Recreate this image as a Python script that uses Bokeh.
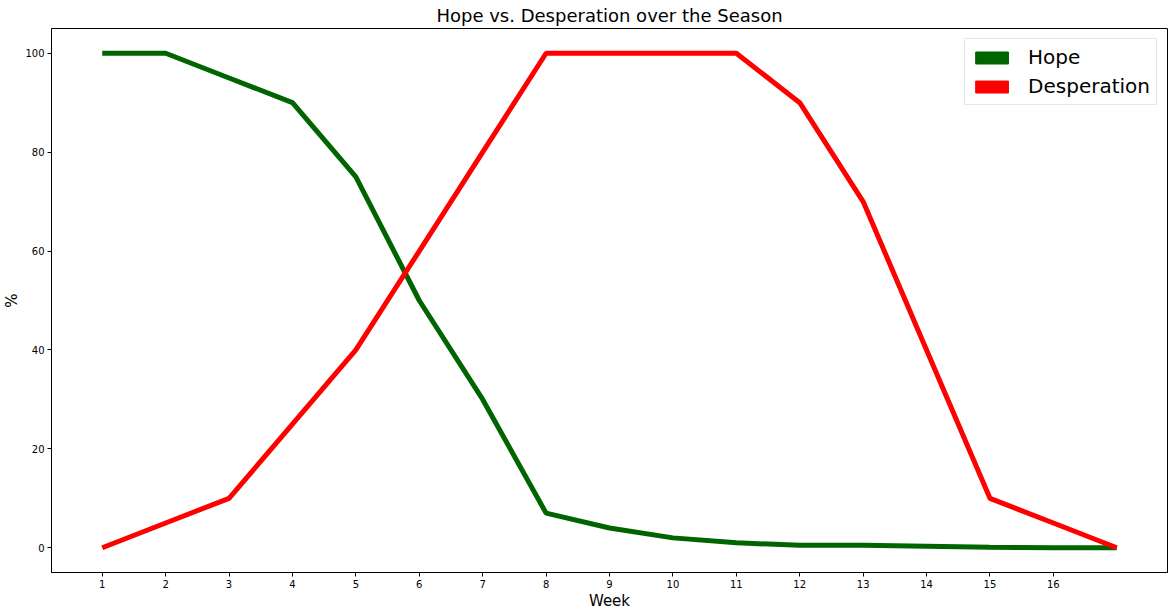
from bokeh.plotting import figure
from bokeh.models import FixedTicker, Range1d, Legend, LegendItem, ColumnDataSource
from bokeh.embed import file_html
from bokeh.resources import INLINE

weeks = list(range(1, 18))
hope = [100, 100, 95, 90, 75, 50, 30, 7, 4, 2, 1, 0.5, 0.5, 0.3, 0.1, 0, 0]
desperation = [0, 5, 10, 25, 40, 60, 80, 100, 100, 100, 100, 90, 70, 40, 10, 5, 0]
x_ticks = list(range(1, 17))
y_ticks = [0, 20, 40, 60, 80, 100]
title_text = "Hope vs. Desperation over the Season"
series_names = ["Hope", "Desperation"]
series_colors = ["#006400", "#ff0000"]

FONT = "DejaVu Sans"

p = figure(frame_width=1116, frame_height=544, output_backend="svg", toolbar_location=None,
           x_range=Range1d(0.2, 17.8), y_range=Range1d(-5, 105),
           min_border_left=40, min_border_right=4, min_border_top=22, min_border_bottom=30)

p.title.text = title_text
p.title.align = "center"
p.title.text_font = FONT
p.title.text_font_size = "18px"
p.title.text_font_style = "normal"
p.title.text_color = "black"
p.title.standoff = 5
p.title.offset = 0

p.xgrid.visible = False
p.ygrid.visible = False
p.outline_line_color = "black"
p.outline_line_width = 1

for ax in (p.xaxis[0], p.yaxis[0]):
    ax.major_label_text_font = FONT
    ax.major_label_text_font_size = "10px"
    ax.major_label_text_color = "black"
    ax.axis_label_text_font = FONT
    ax.axis_label_text_font_size = "15px"
    ax.axis_label_text_font_style = "normal"
    ax.axis_label_text_color = "black"
    ax.minor_tick_line_color = None
    ax.major_tick_out = 4
    ax.major_tick_in = 0
    ax.major_tick_line_color = "black"
    ax.axis_line_color = "black"
    ax.major_label_standoff = 3

p.xaxis.ticker = FixedTicker(ticks=x_ticks)
p.yaxis.ticker = FixedTicker(ticks=y_ticks)
p.xaxis.axis_label = "Week"
p.yaxis.axis_label = "%"
p.xaxis.axis_label_standoff = 1
p.yaxis.axis_label_standoff = 1

p.line(weeks, hope, line_color=series_colors[0], line_width=5)
p.line(weeks, desperation, line_color=series_colors[1], line_width=5)

# legend proxies: one NaN row so the legend has a glyph to draw, nothing on the plot
items = []
for name, col in zip(series_names, series_colors):
    src = ColumnDataSource(dict(l=[float("nan")], r=[float("nan")], t=[float("nan")], b=[float("nan")]))
    r = p.quad(left="l", right="r", top="t", bottom="b", source=src, fill_color=col, line_color=col)
    items.append(LegendItem(label=name, renderers=[r]))

legend = Legend(items=items, location="top_right")
legend.label_text_font = FONT
legend.label_text_font_size = "20px"
legend.label_text_color = "black"
legend.glyph_width = 41
legend.glyph_height = 15
legend.label_height = 22
legend.label_standoff = 16
legend.spacing = 5
legend.padding = 6
legend.margin = 10
legend.border_line_color = "#d0d0d0"
legend.border_line_width = 1
legend.background_fill_alpha = 0.8
p.add_layout(legend, "center")

open("out.html", "w").write(file_html(p, INLINE))
